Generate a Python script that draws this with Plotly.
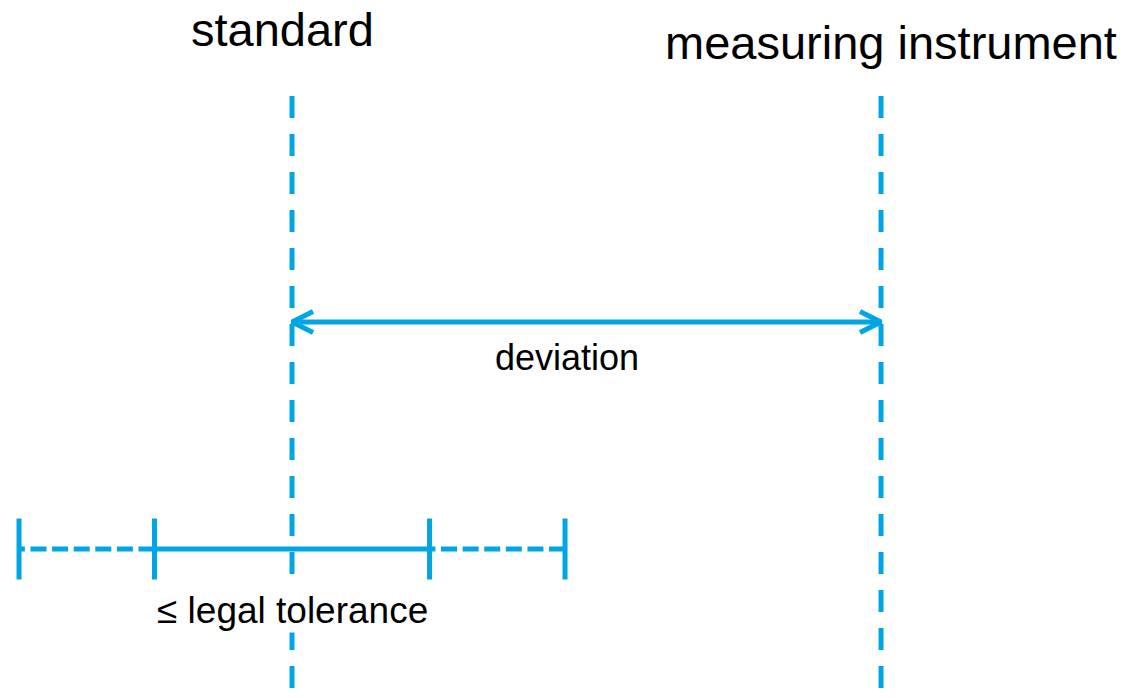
import plotly.graph_objects as go

# ---- data (x in units of the deviation: standard = 0, instrument = 1) ----
position_names = ["standard", "measuring instrument"]
position_values = [0.0, 1.0]
tolerance_inner = 0.2335      # legal tolerance half-width
tolerance_outer = 0.4635      # outer (dashed) extent
# vertical levels (pixel-like units, top = 0)
line_top, line_bottom = 96, 690
arrow_level = 322
tolerance_level = 549
tick_half = 30.5
labels = ["standard", "measuring instrument", "deviation", "≤ legal tolerance"]

BLUE = "#00A6E4"
W, H = 1134, 698
x_range = [-0.4958, 1.4295]

fig = go.Figure()

def line(xs, ys, dash="solid", width=5):
    fig.add_trace(go.Scatter(x=xs, y=ys, mode="lines", hoverinfo="skip",
                             line=dict(color=BLUE, width=width, dash=dash),
                             showlegend=False))

# vertical dashed lines
for xv in position_values:
    line([xv, xv], [line_top, line_bottom], dash="22px,16px")

# deviation double arrow
line([position_values[0], position_values[1]], [arrow_level, arrow_level])
head_dx, head_dy = 0.0357, 10.5
line([position_values[0] + head_dx, position_values[0], position_values[0] + head_dx],
     [arrow_level - head_dy, arrow_level, arrow_level + head_dy])
line([position_values[1] - head_dx, position_values[1], position_values[1] - head_dx],
     [arrow_level - head_dy, arrow_level, arrow_level + head_dy])

# tolerance bar
line([-tolerance_inner, tolerance_inner], [tolerance_level, tolerance_level])
line([-tolerance_inner, -tolerance_outer], [tolerance_level, tolerance_level], dash="16px,5.6px")
line([tolerance_outer, tolerance_inner], [tolerance_level, tolerance_level], dash="16px,5.6px")
for xt in [-tolerance_outer, -tolerance_inner, tolerance_inner, tolerance_outer]:
    line([xt, xt], [tolerance_level - tick_half, tolerance_level + tick_half])

FONT = "Liberation Sans, Arial, sans-serif"
fig.add_annotation(x=-0.016, y=29, text=labels[0], showarrow=False,
                   font=dict(family=FONT, size=47, color="black"))
fig.add_annotation(x=1.017, y=42, text=labels[1], showarrow=False,
                   font=dict(family=FONT, size=47, color="black"))
fig.add_annotation(x=0.467, y=357, text=labels[2], showarrow=False,
                   font=dict(family=FONT, size=36, color="black"))
fig.add_annotation(x=0.0, y=610, text=labels[3], showarrow=False, bgcolor="white",
                   font=dict(family=FONT, size=37, color="black"))

fig.update_layout(width=W, height=H, margin=dict(l=0, r=0, t=0, b=0),
                  paper_bgcolor="white", plot_bgcolor="white",
                  xaxis=dict(range=x_range, visible=False, fixedrange=True),
                  yaxis=dict(range=[H, 0], visible=False, fixedrange=True))

fig.write_html("out.html", config={"displayModeBar": False},
               post_script="document.body.style.margin='0';document.body.style.padding='0';"
                           "document.body.style.overflow='hidden';")
